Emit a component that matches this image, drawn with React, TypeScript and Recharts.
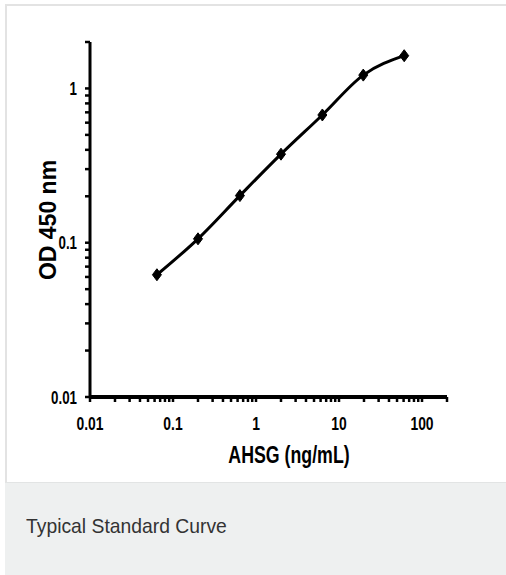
import React from 'react';
import { LineChart, Line, XAxis, YAxis, Label } from 'recharts';

const concentrations = [0.064, 0.2, 0.64, 2, 6.3, 19.6, 61];
const odValues = [0.062, 0.106, 0.202, 0.375, 0.673, 1.22, 1.63];

const xTicks = [
  0.01, 0.02, 0.03, 0.04, 0.05, 0.06, 0.07, 0.08, 0.09,
  0.1, 0.2, 0.3, 0.4, 0.5, 0.6, 0.7, 0.8, 0.9,
  1, 2, 3, 4, 5, 6, 7, 8, 9,
  10, 20, 30, 40, 50, 60, 70, 80, 90,
  100, 200,
];
const yTicks = [
  0.01, 0.02, 0.03, 0.04, 0.05, 0.06, 0.07, 0.08, 0.09,
  0.1, 0.2, 0.3, 0.4, 0.5, 0.6, 0.7, 0.8, 0.9,
  1, 2,
];
const xLabels = ['0.01', '0.1', '1', '10', '100'];
const yLabels = ['0.01', '0.1', '1'];

const data = concentrations.map((c, i) => ({ conc: c, od: odValues[i] }));

const FONT = '"Liberation Sans", Arial, sans-serif';

const fmt = (v: number) => String(v);

const XTick = (props: any) => {
  const { x, y, payload } = props;
  const label = fmt(payload.value);
  const show = xLabels.includes(label);
  return (
    <g>
      <line x1={x} y1={y} x2={x} y2={y + 5} stroke="#000" strokeWidth={2.5} />
      {show && (
        <g transform={`translate(${x},${y + 33}) scale(0.75,1)`}>
          <text x={0} y={0} textAnchor="middle" fontFamily={FONT} fontWeight="bold" fontSize={18.5} fill="#000">
            {label}
          </text>
        </g>
      )}
    </g>
  );
};

const YTick = (props: any) => {
  const { x, y, payload } = props;
  const label = fmt(payload.value);
  const show = yLabels.includes(label);
  return (
    <g>
      <line x1={x - 5} y1={y} x2={x} y2={y} stroke="#000" strokeWidth={2.5} />
      {show && (
        <g transform={`translate(${x - 13},${y + 6.5}) scale(0.72,1)`}>
          <text x={0} y={0} textAnchor="end" fontFamily={FONT} fontWeight="bold" fontSize={18.5} fill="#000">
            {label}
          </text>
        </g>
      )}
    </g>
  );
};

const Diamond = (props: any) => {
  const { cx, cy } = props;
  if (cx == null || cy == null) return null;
  return (
    <polygon
      points={`${cx},${cy - 6} ${cx + 4.5},${cy} ${cx},${cy + 6} ${cx - 4.5},${cy}`}
      fill="#000"
      stroke="#000"
      strokeWidth={1}
    />
  );
};

export default function App() {
  return (
    <div style={{ position: 'absolute', left: 0, top: 0, width: 506, height: 575, background: '#fff', overflow: 'hidden' }}>
      <div
        style={{
          position: 'absolute',
          left: 5,
          top: 4,
          width: 501,
          height: 571,
          borderTop: '2px solid #e3e3e3',
          borderLeft: '2px solid #e3e3e3',
          boxSizing: 'border-box',
        }}
      />
      <div style={{ position: 'absolute', left: 0, top: 0 }}>
        <LineChart width={506} height={482} data={data} margin={{ top: 42, right: 59, bottom: 0, left: 0 }}>
          <XAxis
            dataKey="conc"
            type="number"
            scale="log"
            domain={[0.01, 200]}
            allowDataOverflow
            ticks={xTicks}
            interval={0}
            tickSize={0}
            tickMargin={0}
            tickLine={false}
            height={85}
            axisLine={{ stroke: '#000', strokeWidth: 4 }}
            tick={<XTick />}
          >
            <Label
              content={() => (
                <g transform="translate(289,463) scale(0.74,1)">
                  <text x={0} y={0} textAnchor="middle" fontFamily={FONT} fontWeight="bold" fontSize={24} fill="#000">
                    AHSG (ng/mL)
                  </text>
                </g>
              )}
            />
          </XAxis>
          <YAxis
            dataKey="od"
            type="number"
            scale="log"
            domain={[0.01, 2]}
            allowDataOverflow
            ticks={yTicks}
            interval={0}
            tickSize={0}
            tickMargin={0}
            tickLine={false}
            width={90}
            axisLine={{ stroke: '#000', strokeWidth: 3 }}
            tick={<YTick />}
          >
            <Label
              content={() => (
                <g transform="translate(56,220) rotate(-90)">
                  <text x={0} y={0} textAnchor="middle" fontFamily={FONT} fontWeight="bold" fontSize={23} fill="#000">
                    OD 450 nm
                  </text>
                </g>
              )}
            />
          </YAxis>
          <Line
            type="monotone"
            dataKey="od"
            stroke="#000"
            strokeWidth={3}
            dot={<Diamond />}
            activeDot={false}
            isAnimationActive={false}
          />
        </LineChart>
      </div>
      <div
        style={{
          position: 'absolute',
          left: 5,
          top: 482,
          width: 501,
          height: 93,
          background: '#eef0f0',
          borderTop: '1px solid #e2e4e4',
          boxSizing: 'border-box',
        }}
      >
        <span
          style={{
            position: 'absolute',
            left: 21,
            top: 31,
            fontFamily: FONT,
            fontSize: 21,
            color: '#333',
            whiteSpace: 'nowrap',
            transform: 'scaleX(0.92)',
            transformOrigin: 'left top',
          }}
        >
          Typical Standard Curve
        </span>
      </div>
    </div>
  );
}
